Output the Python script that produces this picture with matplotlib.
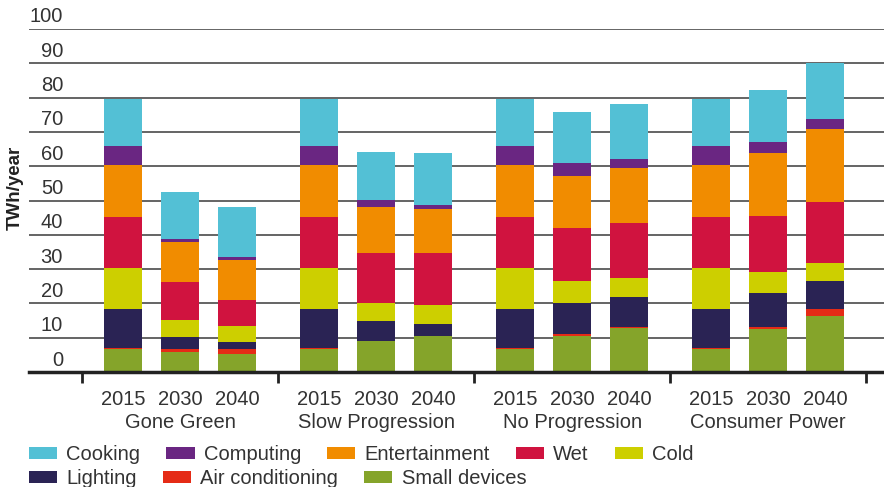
import numpy as np
import matplotlib.pyplot as plt
import matplotlib.transforms as mtransforms
from matplotlib.patches import Patch

plt.rcParams['font.family'] = ['Liberation Sans', 'DejaVu Sans']

# Donnees (TWh/an)
scenarios = ['Gone Green', 'Slow Progression', 'No Progression', 'Consumer Power']
annees = ['2015', '2030', '2040']

# une valeur par barre : GG15, GG30, GG40, SP15, SP30, SP40, NP15, NP30, NP40, CP15, CP30, CP40
small_devices = [6.6, 5.9, 5.2, 6.6, 9.0, 10.5, 6.6, 10.5, 12.9, 6.6, 12.6, 16.4]
air_conditioning = [0.3, 0.9, 1.5, 0.3, 0.0, 0.0, 0.3, 0.6, 0.2, 0.3, 0.4, 2.0]
lighting = [11.5, 3.4, 2.0, 11.5, 5.9, 3.5, 11.5, 9.0, 8.8, 11.5, 10.0, 8.1]
cold = [11.9, 5.0, 4.7, 11.9, 5.2, 5.5, 11.9, 6.4, 5.5, 11.9, 6.2, 5.4]
wet = [14.9, 11.0, 7.6, 14.9, 14.6, 15.2, 14.9, 15.5, 16.0, 14.9, 16.3, 17.8]
entertainment = [15.1, 11.8, 11.7, 15.1, 13.4, 12.8, 15.1, 15.1, 16.1, 15.1, 18.3, 21.1]
computing = [5.6, 0.8, 0.8, 5.6, 2.0, 1.2, 5.6, 3.8, 2.6, 5.6, 3.3, 3.0]
cooking = [13.7, 13.7, 14.6, 13.7, 14.0, 15.1, 13.7, 14.9, 16.0, 13.7, 15.1, 16.3]

# empilement du bas vers le haut
series = [('Small devices', small_devices, '#85A42A'),
          ('Air conditioning', air_conditioning, '#E52B16'),
          ('Lighting', lighting, '#2A2354'),
          ('Cold', cold, '#CDCF00'),
          ('Wet', wet, '#D0133F'),
          ('Entertainment', entertainment, '#F18C00'),
          ('Computing', computing, '#6A2682'),
          ('Cooking', cooking, '#53C0D5')]
couleurs = {nom: c for nom, _, c in series}

texte = '#333333'
ecart_groupe = 3.45

# positions des barres
centres = np.arange(len(scenarios)) * ecart_groupe
x = np.concatenate([c + np.array([-1, 0, 1]) for c in centres])
separateurs = np.append(centres - ecart_groupe / 2, centres[-1] + ecart_groupe / 2)

fig = plt.figure(figsize=(8.84, 4.87), dpi=100)
ax = fig.add_axes([29 / 884, 115 / 487, 855 / 884, 343 / 487])

bas = np.zeros(len(x))
for nom, vals, coul in series:
    vals = np.array(vals)
    ax.bar(x, vals, bottom=bas, width=0.67, color=coul, linewidth=0, zorder=3)
    bas += vals

ax.set_xlim(-2.66, 12.39)
ax.set_ylim(0, 100)

# grille horizontale
ax.set_yticks(np.arange(0, 101, 10))
ax.yaxis.grid(True, color='#4a4a4a', linewidth=1.2, zorder=0)
ax.set_axisbelow(True)
ax.tick_params(axis='y', length=0, pad=0, labelsize=14.5, labelcolor=texte)
decal = mtransforms.ScaledTranslation(0.34, 0.14, fig.dpi_scale_trans)
for lab in ax.get_yticklabels():
    lab.set_transform(lab.get_transform() + decal)

# annees sous chaque barre
ax.set_xticks(x)
ax.set_xticklabels(annees * len(scenarios))
ax.tick_params(axis='x', which='major', length=0, pad=13, labelsize=14.5, labelcolor=texte)
ax.set_xticks(separateurs, minor=True)
ax.tick_params(axis='x', which='minor', length=8, width=2, color='#222222')

for c, nom in zip(centres, scenarios):
    ax.text(c, -0.146, nom, transform=ax.get_xaxis_transform(), ha='center', va='center',
            fontsize=14.5, color=texte)

for s in ['top', 'right', 'left']:
    ax.spines[s].set_visible(False)
ax.spines['bottom'].set_linewidth(2.5)
ax.spines['bottom'].set_color('#222222')
ax.spines['bottom'].set_zorder(5)

fig.text(15 / 884, 1 - 188 / 487, 'TWh/year', rotation=90, ha='center', va='center',
         fontsize=13.5, fontweight='bold', color='#222222')

# legende sur deux lignes
ligne1 = ['Cooking', 'Computing', 'Entertainment', 'Wet', 'Cold']
ligne2 = ['Lighting', 'Air conditioning', 'Small devices']
for noms, yy in [(ligne1, 455), (ligne2, 479)]:
    poignees = [Patch(facecolor=couleurs[n], edgecolor='none', label=n) for n in noms]
    fig.legend(handles=poignees, loc='center left', bbox_to_anchor=(29 / 884, 1 - yy / 487),
               ncol=len(noms), frameon=False, fontsize=14.5, labelcolor=texte,
               handlelength=1.4, handleheight=0.55, handletextpad=0.45,
               columnspacing=1.3, borderpad=0, borderaxespad=0)

fig.savefig('out.png', dpi=100)
